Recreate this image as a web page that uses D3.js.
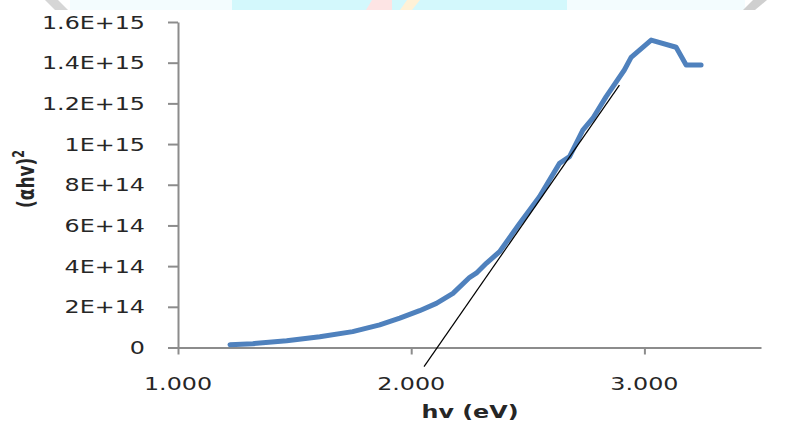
<!DOCTYPE html>
<html>
<head>
	<title>Tauc plot</title>
	<meta charset="utf-8">
	<script src="https://d3js.org/d3.v7.min.js"></script>
	<style>
		body { margin: 0; background: #fff; }
		text { font-family: "DejaVu Sans", Verdana, sans-serif; fill: #262626; }
	</style>
</head>
<body>

	<script type="text/javascript">
		var width = 811
		var height = 424

		// photon energy (eV) and (alpha h v)^2
		var hv = [1.223, 1.321, 1.466, 1.608, 1.749, 1.865, 1.951, 2.036, 2.108, 2.179, 2.251, 2.279,
		          2.322, 2.379, 2.465, 2.550, 2.636, 2.679, 2.736, 2.779, 2.836, 2.914, 2.943, 3.029,
		          3.136, 3.179, 3.243]
		var ahv2 = [1.4e13, 1.9e13, 3.3e13, 5.3e13, 7.8e13, 1.11e14, 1.44e14, 1.81e14, 2.17e14, 2.66e14, 3.45e14, 3.65e14,
		            4.14e14, 4.71e14, 6.10e14, 7.41e14, 9.05e14, 9.38e14, 1.069e15, 1.127e15, 1.233e15, 1.364e15, 1.426e15, 1.511e15,
		            1.476e15, 1.389e15, 1.389e15]

		// linear fit (tangent) end points
		var fitX = [2.055, 2.893]
		var fitY = [-9.4e13, 1.29e15]

		var xTicks = [1, 2, 3]
		var xTickLabels = ["1.000", "2.000", "3.000"]
		var yTicks = [0, 2e14, 4e14, 6e14, 8e14, 1e15, 1.2e15, 1.4e15, 1.6e15]
		var yTickLabels = ["0", "2E+14", "4E+14", "6E+14", "8E+14", "1E+15", "1.2E+15", "1.4E+15", "1.6E+15"]

		var sx = 1.4   // the picture is stretched sideways

		var svg = d3.select("body").append("svg")
		  .attr("width", width)
		  .attr("height", height)

		// faint watermark strip along the top edge
		var wm = svg.append("g")
		wm.append("rect").attr("x", 70).attr("y", 0).attr("width", 675).attr("height", 10).attr("fill", "#f3fcfe")
		wm.append("rect").attr("x", 232).attr("y", 0).attr("width", 335).attr("height", 10).attr("fill", "#d3f8fc")
		wm.append("polygon").attr("points", "45,0 58,0 68,10 55,10").attr("fill", "#d6d6d6")
		wm.append("polygon").attr("points", "753,0 767,0 755,10 743,10").attr("fill", "#cfcfcf")
		wm.append("polygon").attr("points", "372,0 392,0 392,10 366,10").attr("fill", "#fde4e4")
		wm.append("polygon").attr("points", "407,0 420,0 412,10 400,10").attr("fill", "#fff1d6")

		var x = d3.scaleLinear().domain([1, 3.5]).range([178, 761])
		var y = d3.scaleLinear().domain([0, 1.6e15]).range([347.5, 22])

		var axisColor = "#8c8c8c"

		var yAxis = svg.append("g")
		    .attr("transform", "translate(" + x(1) + ",0)")
		    .call(d3.axisLeft(y).tickValues(yTicks).tickSize(10).tickSizeOuter(0).tickFormat(""))
		var xAxis = svg.append("g")
		    .attr("transform", "translate(0," + y(0) + ")")
		    .call(d3.axisBottom(x).tickValues(xTicks).tickSize(7).tickSizeOuter(0).tickFormat(""))

		svg.selectAll(".domain, .tick line")
		    .attr("stroke", axisColor)
		    .attr("stroke-width", 2)

		// tick labels
		svg.append("g").selectAll("text")
		    .data(yTicks)
		    .enter()
		    .append("text")
		        .attr("transform", d => "translate(145," + (y(d) + 6.5) + ") scale(" + sx + ",1)")
		        .attr("text-anchor", "end")
		        .attr("font-size", 17)
		        .text((d, i) => yTickLabels[i])

		svg.append("g").selectAll("text")
		    .data(xTicks)
		    .enter()
		    .append("text")
		        .attr("transform", d => "translate(" + x(d) + ",390) scale(" + sx + ",1)")
		        .attr("text-anchor", "middle")
		        .attr("font-size", 17)
		        .text((d, i) => xTickLabels[i])

		// axis titles
		svg.append("text")
		    .attr("transform", "translate(470,418) scale(" + sx + ",1)")
		    .attr("text-anchor", "middle")
		    .attr("font-size", 17)
		    .attr("font-weight", "bold")
		    .text("hv (eV)")

		var yt = svg.append("text")
		    .attr("transform", "translate(34,179) scale(" + sx + ",1) rotate(-90)")
		    .attr("text-anchor", "middle")
		    .attr("font-size", 17)
		    .attr("font-weight", "bold")
		yt.append("tspan").text("(\u03b1hv)")
		yt.append("tspan").attr("font-size", 11).attr("dy", -7).text("2")

		// data curve
		var pts = hv.map((d, i) => [d, ahv2[i]])
		var line = d3.line().x(d => x(d[0])).y(d => y(d[1]))

		svg.append("path")
		    .datum(pts)
		    .attr("d", line)
		    .attr("fill", "none")
		    .attr("stroke", "#4f81bd")
		    .attr("stroke-width", 5)
		    .attr("stroke-linejoin", "round")
		    .attr("stroke-linecap", "round")

		// tangent line
		svg.append("line")
		    .attr("x1", x(fitX[0]))
		    .attr("y1", y(fitY[0]))
		    .attr("x2", x(fitX[1]))
		    .attr("y2", y(fitY[1]))
		    .attr("stroke", "#000")
		    .attr("stroke-width", 1.2)

	</script>
</body>
</html>
